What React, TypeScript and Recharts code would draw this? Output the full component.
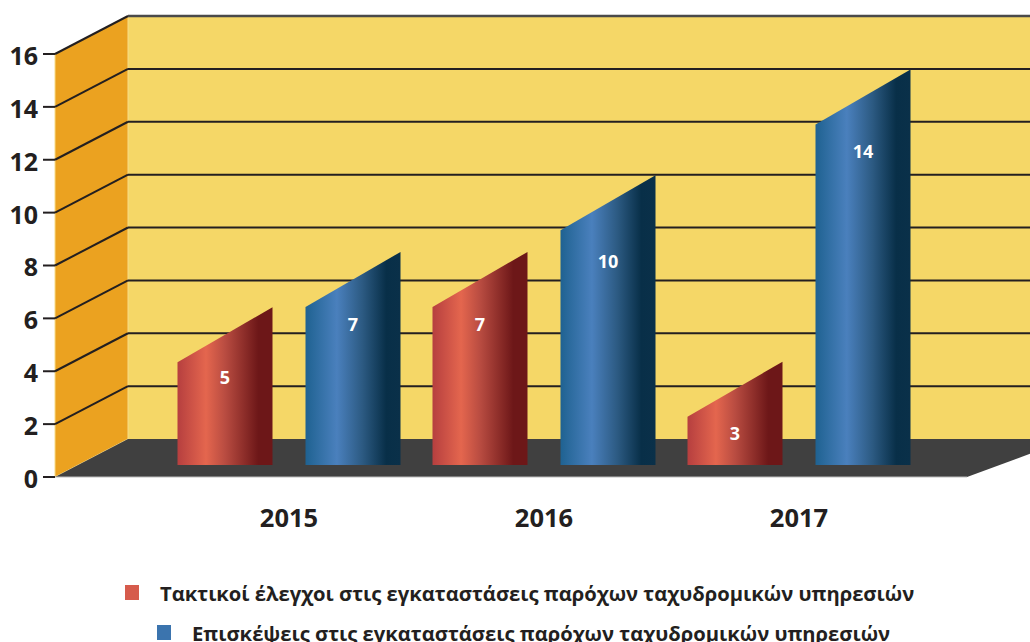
import React from 'react';
import { BarChart, Bar, XAxis, YAxis, CartesianGrid, Legend, LabelList } from 'recharts';

const years = ['2015', '2016', '2017'];
const inspections = [5, 7, 3];
const visits = [7, 10, 14];
const yTicks = [0, 2, 4, 6, 8, 10, 12, 14, 16];
const inspectionsName = 'Τακτικοί έλεγχοι στις εγκαταστάσεις παρόχων ταχυδρομικών υπηρεσιών';
const visitsName = 'Επισκέψεις στις εγκαταστάσεις παρόχων ταχυδρομικών υπηρεσιών';

const rows = years.map((year, i) => ({ year, inspections: inspections[i], visits: visits[i] }));

const FONT = '"Open Sans", sans-serif';
const INK = '#231f20';
const W = 1030;
const H = 642;
const LEFT = 55;
const TOP = 54;
const BOTTOM = 477;
const DX = 73;
const DY = 38;
const swatch: Record<string, string> = { inspections: '#d65b4c', visits: '#3b74ae' };
const labelShift: Record<number, number> = { 3: 36, 5: 33, 7: 33, 10: 49, 14: 45 };
const topShift: Record<number, number> = { 3: 19, 5: 17.5, 7: 15, 10: 17.5, 14: 17.5 };

const Walls = () => (
  <g>
    <polygon points={`${LEFT + DX},${TOP - DY} ${W},${TOP - DY} ${W},${BOTTOM - DY} ${LEFT + DX},${BOTTOM - DY}`} fill="#f5d767" />
    <polygon points={`${LEFT},${TOP} ${LEFT + DX},${TOP - DY} ${LEFT + DX},${BOTTOM - DY} ${LEFT},${BOTTOM}`} fill="#eba220" stroke="#f8dc88" strokeWidth={1} />
    <polygon points={`${LEFT},${BOTTOM} ${LEFT + DX},${BOTTOM - DY} ${W + 40},${BOTTOM - DY} ${W - 63},${BOTTOM}`} fill="#404040" />
    <line x1={LEFT} x2={W - 63} y1={BOTTOM} y2={BOTTOM} stroke="#bdbdbd" strokeWidth={1} />
  </g>
);

const gridLine = (p: any) => {
  if (p.y1 >= BOTTOM - 1) return <g key={p.key} />;
  const isTop = p.y1 <= TOP + 1;
  return (
    <g key={p.key} fill="none" stroke={INK} strokeWidth={2}>
      <line x1={p.x1} y1={p.y1} x2={p.x1 + DX} y2={p.y1 - DY} />
      <line x1={p.x1 + DX} y1={p.y1 - DY} x2={W} y2={p.y1 - DY} stroke={isTop ? '#4a4a4a' : INK} strokeWidth={isTop ? 2.5 : 2} />
    </g>
  );
};

const Prism = (p: any) => {
  const base = p.y + p.height - 12;
  const value = p.value && p.value.length ? p.value[1] : p.value;
  const front = p.y + (topShift[value] ?? 17.5);
  const right = p.x + p.width;
  return <path d={`M${p.x},${base} L${p.x},${front} L${right},${front - 55} L${right},${base} Z`} fill={p.fill} />;
};

const ValueLabel = (p: any) => (
  <text x={p.x + p.width / 2} y={p.y + labelShift[p.value] + 6} textAnchor="middle" fill="#fff" fontFamily={FONT} fontWeight={700} fontSize={18}>
    {p.value}
  </text>
);

const LegendBox = (p: any) => {
  const items = p.payload || [];
  const lefts = [125, 157];
  const tops = [585, 625];
  return (
    <div style={{ position: 'relative', width: W, height: 67 }}>
      {items.map((it: any, i: number) => (
        <div key={it.value} style={{ position: 'absolute', left: lefts[i], top: tops[i] - 575, display: 'flex', alignItems: 'center', height: 15, whiteSpace: 'nowrap' }}>
          <span style={{ display: 'inline-block', width: 14, height: 15, background: swatch[it.dataKey], marginRight: 21 }} />
          <span style={{ fontFamily: FONT, fontWeight: 700, fontSize: 20.2, color: INK }}>{it.value}</span>
        </div>
      ))}
    </div>
  );
};

export default function App() {
  return (
    <div style={{ position: 'absolute', left: 0, top: 0, width: W, height: H, overflow: 'hidden', background: '#fff' }}>
      <BarChart
        width={W}
        height={H}
        data={rows}
        margin={{ top: TOP, right: 0, bottom: 0, left: 0 }}
        barCategoryGap={16}
        barGap={33}
        barSize={95}
      >
        <defs>
          <linearGradient id="redBar" x1="0" y1="0" x2="1" y2="0">
            <stop offset="0" stopColor="#b63f3f" />
            <stop offset="0.3" stopColor="#e4664e" />
            <stop offset="0.5" stopColor="#b94c41" />
            <stop offset="0.85" stopColor="#6d1718" />
            <stop offset="1" stopColor="#6d1718" />
          </linearGradient>
          <linearGradient id="blueBar" x1="0" y1="0" x2="1" y2="0">
            <stop offset="0" stopColor="#1f6291" />
            <stop offset="0.33" stopColor="#4a80bd" />
            <stop offset="0.6" stopColor="#2c5a82" />
            <stop offset="0.85" stopColor="#082f48" />
            <stop offset="1" stopColor="#0a3049" />
          </linearGradient>
        </defs>
        <Walls />
        <CartesianGrid vertical={false} horizontal={gridLine} zIndex={1} />
        <XAxis
          dataKey="year"
          axisLine={false}
          tickLine={false}
          padding={{ left: 106.5, right: 103.5 }}
          height={H - BOTTOM}
          tickMargin={26}
          tick={{ fontFamily: FONT, fontWeight: 700, fontSize: 25.5, fill: INK }}
        />
        <YAxis
          width={LEFT}
          domain={[0, 16]}
          ticks={yTicks}
          interval={0}
          axisLine={false}
          tickSize={12}
          tickMargin={5}
          tickLine={{ stroke: INK, strokeWidth: 2 }}
          tick={{ fontFamily: FONT, fontWeight: 700, fontSize: 25, fill: INK, dy: 2 }}
        />
        <Bar dataKey="inspections" name={inspectionsName} fill="url(#redBar)" shape={Prism} isAnimationActive={false}>
          <LabelList dataKey="inspections" content={ValueLabel} />
        </Bar>
        <Bar dataKey="visits" name={visitsName} fill="url(#blueBar)" shape={Prism} isAnimationActive={false}>
          <LabelList dataKey="visits" content={ValueLabel} />
        </Bar>
        <Legend
          layout="vertical"
          align="center"
          verticalAlign="middle"
          itemSorter="dataKey"
          content={LegendBox}
          wrapperStyle={{ position: 'absolute', left: 0, top: 575, width: W, margin: 0 }}
        />
      </BarChart>
    </div>
  );
}
